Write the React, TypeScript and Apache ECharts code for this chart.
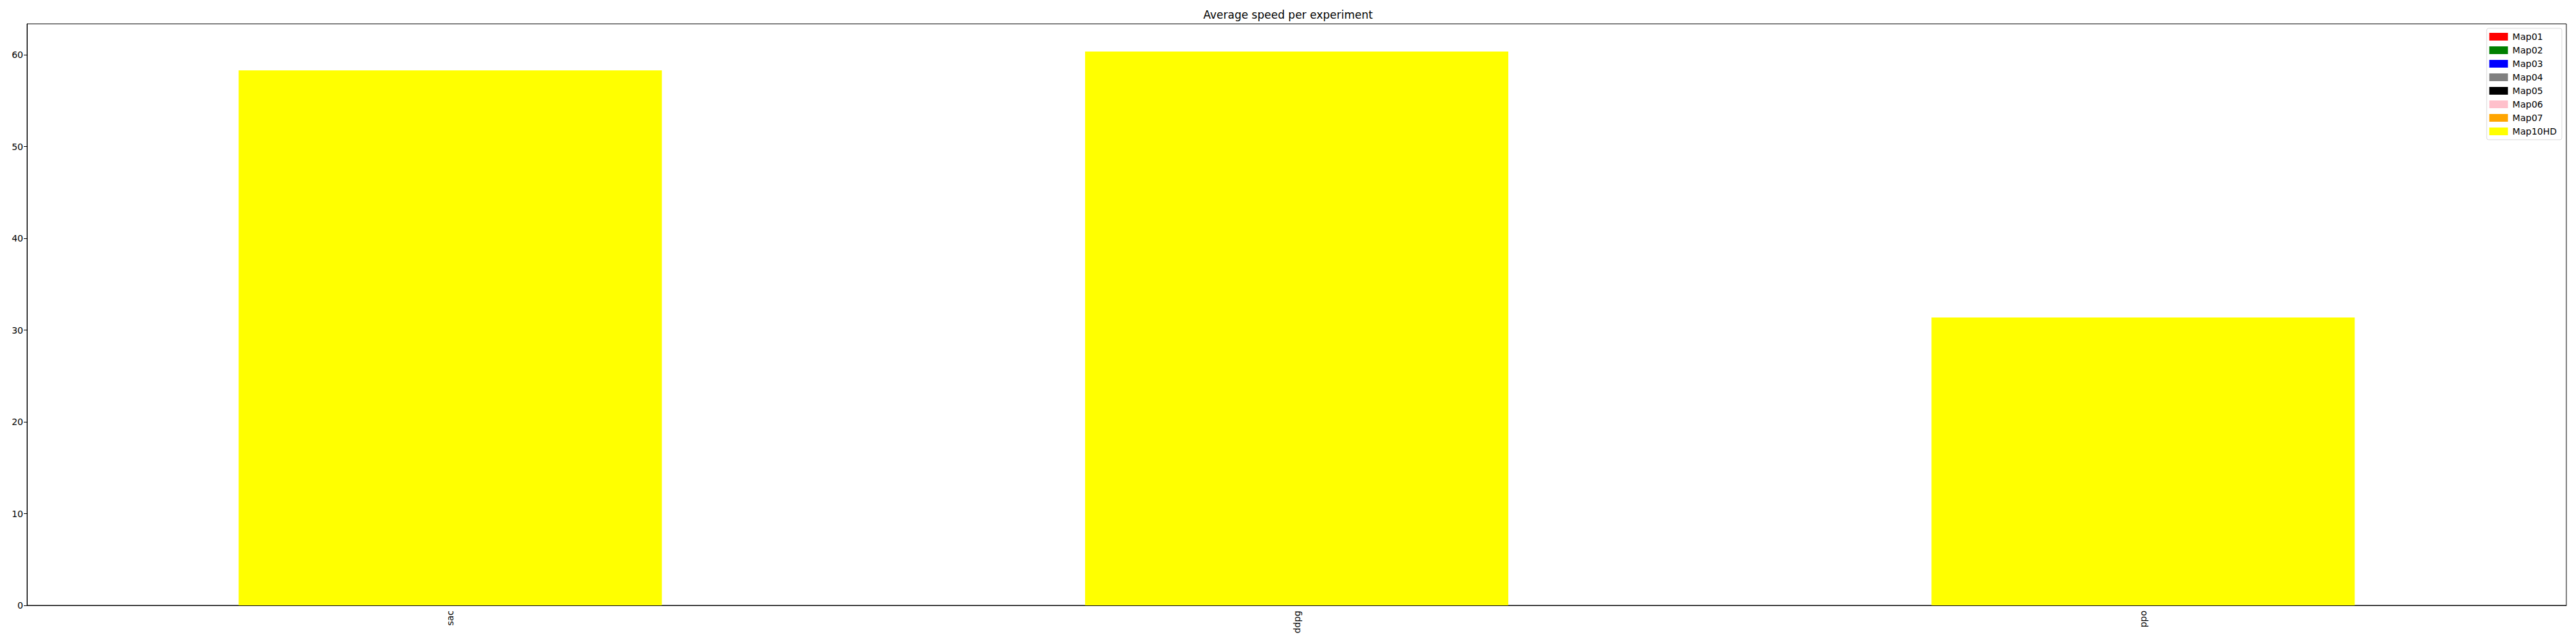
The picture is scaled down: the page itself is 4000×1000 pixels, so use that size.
import React, { useEffect, useRef } from "react";
import * as echarts from "echarts";

const experiments = ["sac", "ddpg", "ppo"];
const mapNames = ["Map01", "Map02", "Map03", "Map04", "Map05", "Map06", "Map07", "Map10HD"];
const mapColors = ["#ff0000", "#008000", "#0000ff", "#808080", "#000000", "#ffc0cb", "#ffa500", "#ffff00"];
// only Map10HD bars are visible in the picture
const map01 = [null, null, null];
const map02 = [null, null, null];
const map03 = [null, null, null];
const map04 = [null, null, null];
const map05 = [null, null, null];
const map06 = [null, null, null];
const map07 = [null, null, null];
const map10HD = [58.3, 60.35, 31.37];
const yTicks = [0, 10, 20, 30, 40, 50, 60];

const seriesValues = [map01, map02, map03, map04, map05, map06, map07, map10HD];

export default function App() {
  const ref = useRef<HTMLDivElement>(null);
  useEffect(() => {
    document.body.style.margin = "0";
    const chart = echarts.init(ref.current!, null, { renderer: "svg" });
    const font = "DejaVu Sans";
    chart.setOption({
      animation: false,
      backgroundColor: "#ffffff",
      textStyle: { fontFamily: font },
      title: {
        text: "Average speed per experiment",
        left: "center",
        top: 9,
        textStyle: { fontFamily: font, fontSize: 17, fontWeight: "normal", color: "#000" },
      },
      legend: {
        orient: "vertical",
        right: 22,
        top: 44,
        data: mapNames,
        icon: "rect",
        itemWidth: 29,
        itemHeight: 12,
        itemGap: 7,
        padding: [6, 8, 6, 4],
        borderColor: "#d9d9d9",
        borderWidth: 1,
        borderRadius: 3,
        backgroundColor: "rgba(255,255,255,0.8)",
        textStyle: { fontFamily: font, fontSize: 14, color: "#000", padding: [0, 0, 0, 2] },
      },
      grid: {
        left: 42,
        right: 15,
        top: 37,
        bottom: 60,
        show: true,
        borderColor: "#000",
        borderWidth: 1,
        containLabel: false,
      },
      xAxis: {
        type: "category",
        data: experiments,
        boundaryGap: true,
        axisLine: { lineStyle: { color: "#000", width: 1 } },
        axisTick: { alignWithLabel: true, length: 5, lineStyle: { color: "#000" } },
        axisLabel: { rotate: 90, fontSize: 14, color: "#000", fontFamily: font, margin: 8 },
        splitLine: { show: false },
      },
      yAxis: {
        type: "value",
        min: 0,
        max: 63.37,
        interval: 10,
        axisLine: { show: true, lineStyle: { color: "#000", width: 1 } },
        axisTick: { show: true, length: 5, lineStyle: { color: "#000" }, customValues: yTicks },
        axisLabel: {
          fontSize: 14,
          color: "#000",
          fontFamily: font,
          margin: 6,
          customValues: yTicks,
          formatter: (v: number) => (yTicks.includes(v) ? String(v) : ""),
        },
        splitLine: { show: false },
      },
      series: mapNames.map((name, i) => ({
        name,
        type: "bar",
        data: seriesValues[i],
        barWidth: "50%",
        barGap: "-100%",
        itemStyle: { color: mapColors[i] },
      })),
    });
    return () => chart.dispose();
  }, []);
  return <div ref={ref} style={{ width: 4000, height: 1000 }} />;
}
